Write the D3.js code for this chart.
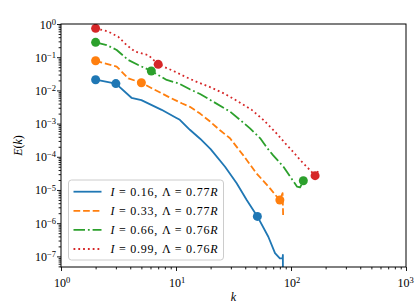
<!DOCTYPE html>
<html lang="en">
<head>
<meta charset="UTF-8">
<title>E(k) spectra</title>
<script src="https://d3js.org/d3.v7.min.js"></script>
<style>
    body { margin: 0; background: #fff; }
    svg text { font-family: "Liberation Serif", "DejaVu Serif", serif; fill: #000; }
</style>
</head>
<body>
<svg id="chart"></svg>
<script>
    // values
    const kBlue = [2, 3, 4.1, 5, 7.5, 10, 10.8, 13.2, 16.2, 20, 26.7, 33.7, 41.2, 51, 63.5, 72.6, 80, 84.5, 85, 85.2];
    const eBlue = [2.1e-2, 1.6e-2, 6.0e-3, 5.1e-3, 2.6e-3, 1.5e-3, 1.3e-3, 6.5e-4, 3.5e-4, 1.7e-4, 5.0e-5, 1.6e-5, 5.0e-6, 1.6e-6, 3.9e-7, 1.25e-7, 8.7e-8, 8.7e-8, 1.1e-7, 1e-9];

    const kOrange = [2, 3.05, 3.85, 5, 6.15, 8.6, 11.2, 13.2, 16.2, 19.8, 24, 29.5, 38.5, 50, 66, 73, 80, 84.5, 85.5];
    const eOrange = [7.8e-2, 5.2e-2, 2.3e-2, 1.7e-2, 1.16e-2, 6.4e-3, 4.1e-3, 3.2e-3, 2.0e-3, 1.15e-3, 6.4e-4, 3.6e-4, 1.1e-4, 3.2e-5, 1.1e-5, 7.1e-6, 5.0e-6, 8.0e-6, 1.5e-6];

    const kGreen = [2, 2.5, 3.05, 3.85, 4.7, 6.1, 8.3, 10.5, 13.2, 16.2, 21, 29.5, 36, 44, 54, 61.5, 70, 86, 101, 113, 120, 128, 131];
    const eGreen = [0.28, 0.233, 0.165, 8.2e-2, 5.8e-2, 3.85e-2, 2.06e-2, 1.64e-2, 1.08e-2, 7.8e-3, 4.6e-3, 2.3e-3, 1.3e-3, 7.2e-4, 3.6e-4, 1.9e-4, 1.1e-4, 5.0e-5, 2.2e-5, 1.26e-5, 1.2e-5, 1.9e-5, 2.1e-5];

    const kRed = [2, 2.58, 3.15, 3.72, 4.4, 5.74, 7, 9.8, 12, 15, 20, 26.7, 34.8, 45.5, 57.4, 72.6, 90.5, 101, 124, 146, 162, 172];
    const eRed = [0.74, 0.59, 0.41, 0.233, 0.147, 0.116, 6.1e-2, 3.66e-2, 2.59e-2, 1.83e-2, 1.24e-2, 7.8e-3, 4.6e-3, 2.6e-3, 1.3e-3, 5.7e-4, 2.4e-4, 1.6e-4, 7.1e-5, 4.0e-5, 2.7e-5, 3.7e-5];

    // k positions of the circle markers on each curve
    const markBlue = [2, 3, 51];
    const markOrange = [2, 5, 80];
    const markGreen = [2, 6.1, 128];
    const markRed = [2, 7, 162];

    const labelI = ["0.16", "0.33", "0.66", "0.99"];
    const labelLambda = ["0.77", "0.77", "0.76", "0.76"];

    const xTicks = [1, 10, 100, 1000];
    const yTicks = [1e-7, 1e-6, 1e-5, 1e-4, 1e-3, 1e-2, 1e-1, 1];

    const series = [
        { k: kBlue, e: eBlue, marks: markBlue, color: "#1f77b4", dash: null },
        { k: kOrange, e: eOrange, marks: markOrange, color: "#ff7f0e", dash: "6.7,2.9" },
        { k: kGreen, e: eGreen, marks: markGreen, color: "#2ca02c", dash: "11.5,2.9,1.8,2.9" },
        { k: kRed, e: eRed, marks: markRed, color: "#d62728", dash: "1.8,3" }
    ];

    const W = 415, H = 304;
    const margin = { top: 24, right: 9, bottom: 37, left: 61 };
    const width = W - margin.left - margin.right,
        height = H - margin.top - margin.bottom;

    const x = d3.scaleLog().domain([1, 1000]).range([0, width]);
    const y = d3.scaleLog().domain([Math.pow(10, -7.32), 1]).range([height, 0]);

    const svg = d3.select("#chart").attr("width", W).attr("height", H);
    const g = svg.append("g").attr("transform", "translate(" + margin.left + "," + margin.top + ")");

    g.append("clipPath").attr("id", "plotClip")
        .append("rect").attr("width", width).attr("height", height);

    // minor ticks
    function minors(lo, hi) {
        const out = [];
        for (let p = lo; p < hi; p++) {
            for (let m = 2; m <= 9; m++) out.push(m * Math.pow(10, p));
        }
        return out;
    }
    const xMinor = minors(0, 3);
    const yMinor = minors(-8, 0).filter(v => v >= y.domain()[0]);

    g.append("g").attr("transform", "translate(0," + height + ")")
        .call(d3.axisBottom(x).tickValues(xMinor).tickSize(2.4).tickFormat(""))
        .call(a => a.select(".domain").remove());
    g.append("g")
        .call(d3.axisLeft(y).tickValues(yMinor).tickSize(2.4).tickFormat(""))
        .call(a => a.select(".domain").remove());

    // major ticks, labels drawn as 10 with superscript
    function powLabel(sel, v) {
        const p = Math.round(Math.log10(v));
        sel.text(null);
        sel.append("tspan").text("10");
        sel.append("tspan").attr("dy", "-0.45em").attr("font-size", "8.5px")
            .text(p < 0 ? "\u2212" + (-p) : String(p));
    }

    const xAxis = g.append("g").attr("transform", "translate(0," + height + ")")
        .call(d3.axisBottom(x).tickValues(xTicks).tickSize(4).tickFormat(""));
    xAxis.select(".domain").remove();
    xAxis.selectAll(".tick").append("text")
        .attr("y", 19.5).attr("x", d => d === 1000 ? -1 : 0.5).attr("text-anchor", "middle")
        .attr("font-size", "12px").style("fill", "#000")
        .each(function (d) { powLabel(d3.select(this), d); });

    const yAxis = g.append("g")
        .call(d3.axisLeft(y).tickValues(yTicks).tickSize(4).tickFormat(""));
    yAxis.select(".domain").remove();
    yAxis.selectAll(".tick").append("text")
        .attr("x", -5).attr("y", 4).attr("text-anchor", "end")
        .attr("font-size", "12px").style("fill", "#000")
        .each(function (d) { powLabel(d3.select(this), d); });

    g.selectAll(".tick line").attr("stroke", "#000").attr("stroke-width", 0.9);

    // curves
    const line = d3.line().x(d => x(d[0])).y(d => y(d[1]));
    const plot = g.append("g").attr("clip-path", "url(#plotClip)");

    series.forEach(s => {
        const pts = s.k.map((k, i) => [k, s.e[i]]);
        plot.append("path")
            .datum(pts)
            .attr("d", line)
            .attr("fill", "none")
            .attr("stroke", s.color)
            .attr("stroke-width", 1.8)
            .attr("stroke-linejoin", "round")
            .attr("stroke-dasharray", s.dash);
    });

    series.forEach(s => {
        const pts = s.marks.map(k => [k, s.e[s.k.indexOf(k)]]);
        plot.selectAll(null)
            .data(pts)
            .enter().append("circle")
            .attr("cx", d => x(d[0]))
            .attr("cy", d => y(d[1]))
            .attr("r", 4.5)
            .attr("fill", s.color);
    });

    // frame
    g.append("rect")
        .attr("x", 0).attr("y", 0).attr("width", width).attr("height", height)
        .attr("fill", "none").attr("stroke", "#000").attr("stroke-width", 1);

    // axis titles
    const xt = g.append("text")
        .attr("x", width / 2).attr("y", height + 34)
        .attr("text-anchor", "middle").attr("font-size", "12px");
    xt.append("tspan").attr("font-style", "italic").text("k");

    const yt = svg.append("text")
        .attr("transform", "translate(22," + (margin.top + height / 2) + ") rotate(-90)")
        .attr("text-anchor", "middle").attr("font-size", "12px");
    yt.append("tspan").attr("font-style", "italic").text("E");
    yt.append("tspan").text("(");
    yt.append("tspan").attr("font-style", "italic").text("k");
    yt.append("tspan").text(")");

    // legend
    const leg = g.append("g").attr("transform", "translate(7.5,156)");
    leg.append("rect")
        .attr("width", 155).attr("height", 80).attr("rx", 3)
        .attr("fill", "#fff").attr("fill-opacity", 0.8)
        .attr("stroke", "#cccccc").attr("stroke-width", 1);

    series.forEach((s, i) => {
        const row = leg.append("g").attr("transform", "translate(0," + (11.7 + i * 19.1) + ")");
        row.append("line")
            .attr("x1", 5).attr("x2", 33)
            .attr("stroke", s.color).attr("stroke-width", 1.8)
            .attr("stroke-dasharray", s.dash);
        const t = row.append("text").attr("x", 42).attr("y", 4.3)
            .attr("font-size", "12px")
            .attr("textLength", 107).attr("lengthAdjust", "spacing");
        t.append("tspan").attr("font-style", "italic").text("I");
        t.append("tspan").text(" = " + labelI[i] + ", \u039B = " + labelLambda[i]);
        t.append("tspan").attr("font-style", "italic").text("R");
    });
</script>
</body>
</html>
